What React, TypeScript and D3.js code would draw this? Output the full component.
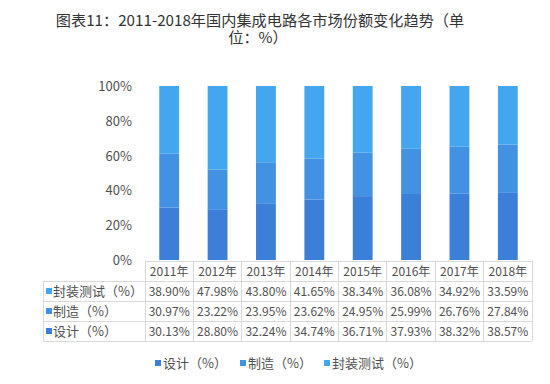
import React from "react";
import * as d3 from "d3";

const years = ["2011年", "2012年", "2013年", "2014年", "2015年", "2016年", "2017年", "2018年"];
const design = [30.13, 28.8, 32.24, 34.74, 36.71, 37.93, 38.32, 38.57];
const manufacture = [30.97, 23.22, 23.95, 23.62, 24.95, 25.99, 26.76, 27.84];
const packaging = [38.9, 47.98, 43.8, 41.65, 38.34, 36.08, 34.92, 33.59];
const seriesNames = ["设计（%）", "制造（%）", "封装测试（%）"];
const yTicks = [0, 20, 40, 60, 80, 100];
const colors = ["#3c7fd8", "#4391e2", "#44a6ef"];
const title1 = "图表11：2011-2018年国内集成电路各市场份额变化趋势（单";
const title2 = "位：%）";

const W = 550, H = 384;
const FONT = "'Noto Sans CJK SC', 'Noto Sans', sans-serif";

export default function App() {
  const x = d3.scaleBand().domain(years).range([145, 532]).paddingInner(0.59).paddingOuter(0.295);
  const xc = d3.scaleBand().domain(years).range([145, 532]);
  const y = d3.scaleLinear().domain([0, 100]).range([260, 86]);
  const data = years.map((yr, i) => ({ yr, s0: design[i], s1: manufacture[i], s2: packaging[i] }));
  const stack = d3.stack<any>().keys(["s0", "s1", "s2"])(data);
  const rows = [
    { name: seriesNames[2], vals: packaging, color: colors[2] },
    { name: seriesNames[1], vals: manufacture, color: colors[1] },
    { name: seriesNames[0], vals: design, color: colors[0] },
  ];
  const rowY = d3.scaleBand().domain(["h", "0", "1", "2"]).range([261, 341]);
  const grid = "#d9d9d9";
  const txt = "#505050";
  const fmt = (v: number) => v.toFixed(2) + "%";
  const legendX = [155, 240, 324];
  return (
    <svg width={W} height={H} style={{ position: "absolute", left: 0, top: 0, background: "#fff" }} fontFamily={FONT}>
      <text textAnchor="middle" fontSize={15.2} fill="#333">
        <tspan x={260} y={26}>{title1}</tspan>
        <tspan x={258} y={43}>{title2}</tspan>
      </text>
      {yTicks.map((t) => (
        <text key={t} x={132} y={y(t) + 5} textAnchor="end" fontSize={13} fill={txt}>{t}%</text>
      ))}
      {stack.map((s, si) => (
        <g key={si} fill={colors[si]}>
          {s.map((d, i) => (
            <rect key={i} x={x(years[i])} y={y(d[1])} width={x.bandwidth()} height={y(d[0]) - y(d[1])} />
          ))}
        </g>
      ))}
      {/* table */}
      <g stroke={grid} strokeWidth={1} shapeRendering="crispEdges">
        <line x1={145} x2={532} y1={rowY("h")} y2={rowY("h")} />
        {["0", "1", "2"].map((k) => (
          <line key={k} x1={43} x2={532} y1={rowY(k)} y2={rowY(k)} />
        ))}
        <line x1={43} x2={532} y1={341} y2={341} />
        <line x1={43} x2={43} y1={rowY("0")} y2={341} />
        {years.map((yr) => (
          <line key={yr} x1={xc(yr)} x2={xc(yr)} y1={261} y2={341} />
        ))}
        <line x1={532} x2={532} y1={261} y2={341} />
      </g>
      {years.map((yr) => (
        <text key={yr} x={xc(yr)! + xc.bandwidth() / 2} y={rowY("h")! + 15} textAnchor="middle" fontSize={12} fill={txt}>{yr}</text>
      ))}
      {rows.map((r, ri) => (
        <g key={ri}>
          <rect x={46} y={rowY(String(ri))! + 7} width={6} height={6} fill={r.color} />
          <text x={53} y={rowY(String(ri))! + 15} fontSize={13} fill={txt}>{r.name}</text>
          {r.vals.map((v, i) => (
            <text key={i} x={xc(years[i])! + xc.bandwidth() / 2} y={rowY(String(ri))! + 15} textAnchor="middle" fontSize={12} fill={txt}>{fmt(v)}</text>
          ))}
        </g>
      ))}
      {/* legend */}
      {seriesNames.map((n, i) => (
        <g key={n}>
          <rect x={legendX[i]} y={360} width={6} height={6} fill={colors[i]} />
          <text x={legendX[i] + 8} y={368} fontSize={13} fill={txt}>{n}</text>
        </g>
      ))}
    </svg>
  );
}
